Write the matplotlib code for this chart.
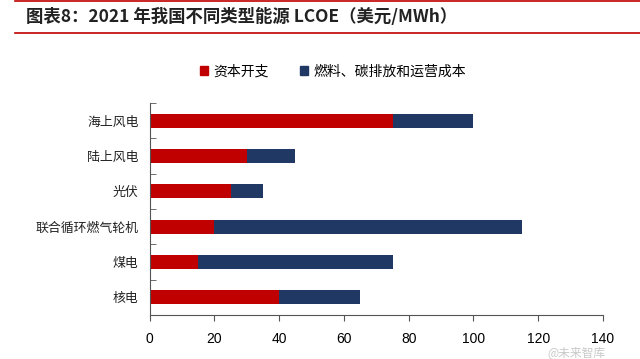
import matplotlib
matplotlib.use("Agg")
import matplotlib.pyplot as plt
from matplotlib.lines import Line2D
from matplotlib.patches import Patch

plt.rcParams['font.family'] = ['Noto Sans CJK SC', 'DejaVu Sans']

categories = ['海上风电', '陆上风电', '光伏', '联合循环燃气轮机', '煤电', '核电']
capex = [75, 30, 25, 20, 15, 40]
opex = [25, 15, 10, 95, 60, 25]
series_names = ['资本开支', '燃料、碳排放和运营成本']
title = '图表8：2021 年我国不同类型能源 LCOE（美元/MWh）'

RED = '#C00000'
NAVY = '#1F3864'

fig = plt.figure(figsize=(6.4, 3.59), dpi=100)
ax = fig.add_axes([0.234, 0.1226, 0.708, 0.590])

y = list(range(len(categories)))[::-1]
ax.barh(y, capex, height=0.4, color=RED, label=series_names[0])
ax.barh(y, opex, left=capex, height=0.4, color=NAVY, label=series_names[1])

ax.set_xlim(0, 140)
ax.set_ylim(-0.5, len(categories) - 0.5)
ax.set_xticks(range(0, 141, 20))
ax.set_xticklabels([str(v) for v in range(0, 141, 20)],
                   fontfamily=['Liberation Sans', 'DejaVu Sans'], fontsize=10)
ax.set_yticks(y)
ax.set_yticklabels(categories, fontsize=9.3, color='#222222')
ax.set_yticks([i - 0.5 for i in range(len(categories) + 1)], minor=True)
ax.tick_params(axis='y', which='major', length=0, pad=8)
ax.tick_params(axis='y', which='minor', length=4, direction='in', color='#555555')
ax.tick_params(axis='x', which='major', length=4, direction='out', color='#555555', pad=8)
ax.spines['top'].set_visible(False)
ax.spines['right'].set_visible(False)
for s in ('left', 'bottom'):
    ax.spines[s].set_color('#555555')
    ax.spines[s].set_linewidth(0.8)

handles = [Patch(color=RED), Patch(color=NAVY)]
fig.legend(handles, series_names, loc='center', bbox_to_anchor=(0.52, 0.80),
           ncol=2, frameon=False, fontsize=10, handlelength=0.6, handleheight=0.6,
           columnspacing=2.2, handletextpad=0.4)

# title and rules
fig.add_artist(Line2D([0.023, 1.0], [0.996, 0.996], color=RED, lw=1.2))
fig.add_artist(Line2D([0.023, 1.0], [0.908, 0.908], color=RED, lw=1.2))
fig.text(0.04, 0.952, title, fontsize=12.5, fontweight='bold', style='italic',
         color='#222222', va='center', ha='left')

fig.text(0.90, 0.014, '@未来智库', fontsize=8.5, color='#bbbbbb', ha='center', va='center', alpha=0.8)

fig.savefig('out.png', dpi=100)
